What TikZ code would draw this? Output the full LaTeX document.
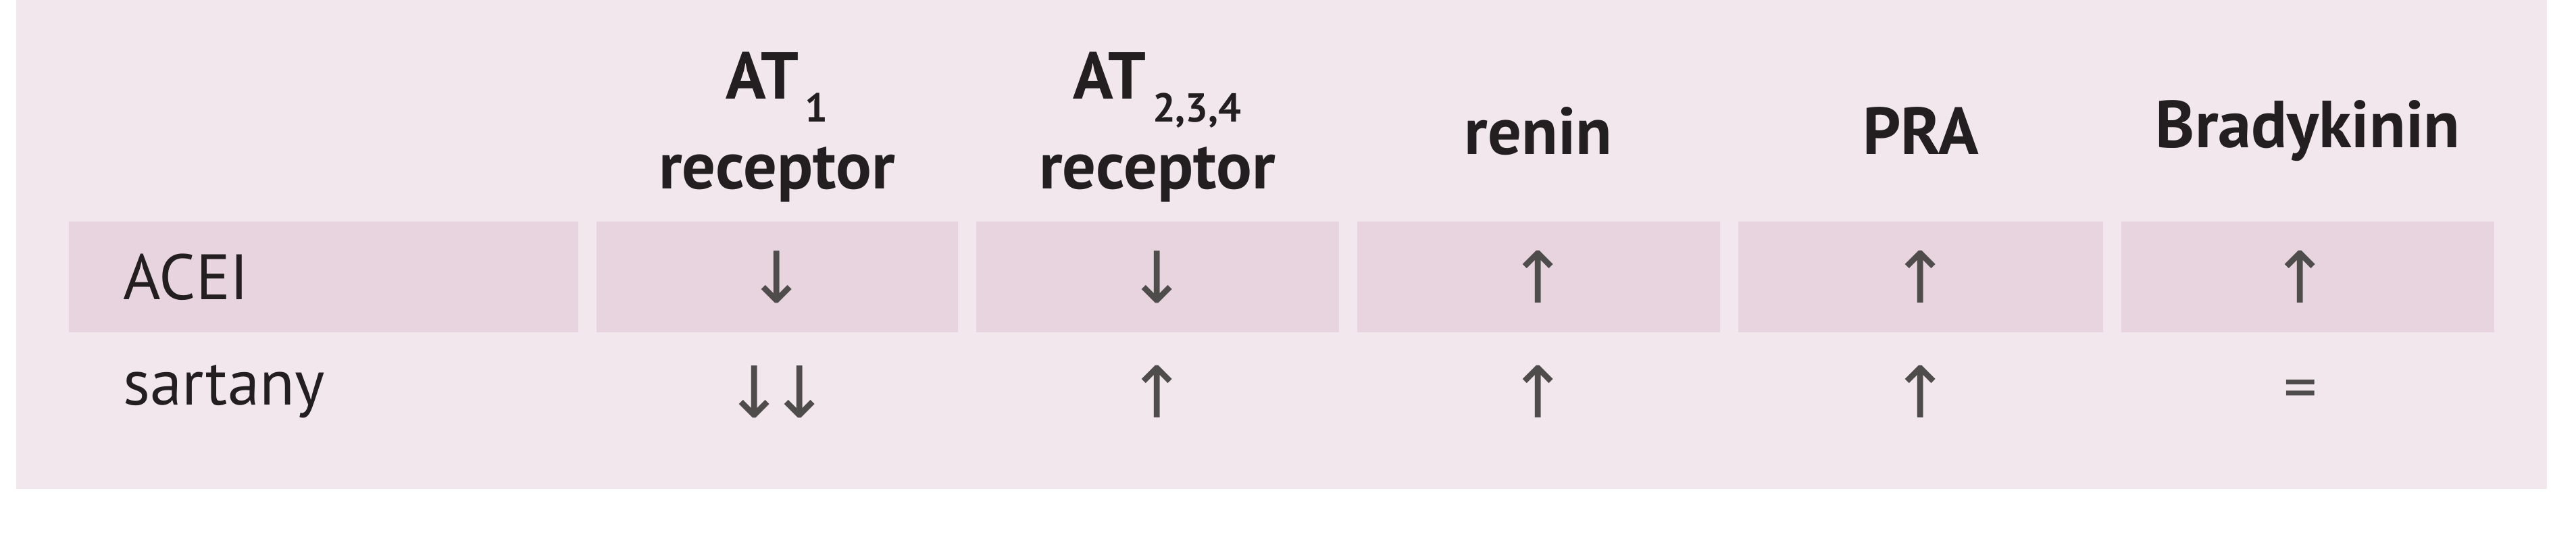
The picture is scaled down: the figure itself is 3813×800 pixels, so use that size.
\documentclass[tikz,border=0pt]{standalone}
\usepackage{fontspec}
\setmainfont{PT Sans}
\newfontfamily\arr{DejaVu Sans}
\definecolor{panel}{HTML}{F3E7EE}
\definecolor{rowc}{HTML}{E8D4DF}
\definecolor{ink}{HTML}{231F20}
\newcommand{\subsc}[1]{\raisebox{-0.35em}{\fontsize{17}{17}\selectfont\,#1}}
\begin{document}
\begin{tikzpicture}[x=0.01cm,y=-0.01cm,
  hdr/.style={font=\fontsize{28}{38}\selectfont\bfseries,text=ink,align=center,inner sep=0},
  lbl/.style={font=\fontsize{27}{28}\selectfont,text=ink,anchor=west,inner sep=0},
  sym/.style={font=\arr\fontsize{30}{30}\selectfont,text=ink!80,inner sep=0}]
\useasboundingbox (0,0) rectangle (3813,800);
\fill[panel] (24,0) rectangle (3770,724);
\foreach \a/\b in {102/856,883/1418,1445/1982,2009/2546,2573/3113,3140/3692}
  \fill[rowc] (\a,328) rectangle (\b,492);
% headers
\node[hdr] (h1) at (1150,188) {AT\subsc{1}\\receptor};
\node[hdr] (h2) at (1713,188) {AT\subsc{2,3,4}\\receptor};
\node[hdr] (h3) at (2277,194) {renin};
\node[hdr] (h4) at (2843,194) {PRA};
\node[hdr] (h5) at (3416,194) {Bradykinin};
% row labels
\node[lbl] (r1) at (182,410) {ACEI};
\node[lbl] (r2) at (182,580) {sartany};
% ACEI
\node[sym] (a1) at (1150,410) {↓};
\node[sym] (a2) at (1713,410) {↓};
\node[sym] (a3) at (2277,410) {↑};
\node[sym] (a4) at (2843,410) {↑};
\node[sym] (a5) at (3405,410) {↑};
% sartany
\node[sym] (s1) at (1150,580) {↓\kern-0.2em↓};
\node[sym] (s2) at (1713,580) {↑};
\node[sym] (s3) at (2277,580) {↑};
\node[sym] (s4) at (2843,580) {↑};
\node[sym,font=\fontsize{28}{28}\selectfont] (s5) at (3405,585) {=};
\end{tikzpicture}
\end{document}
